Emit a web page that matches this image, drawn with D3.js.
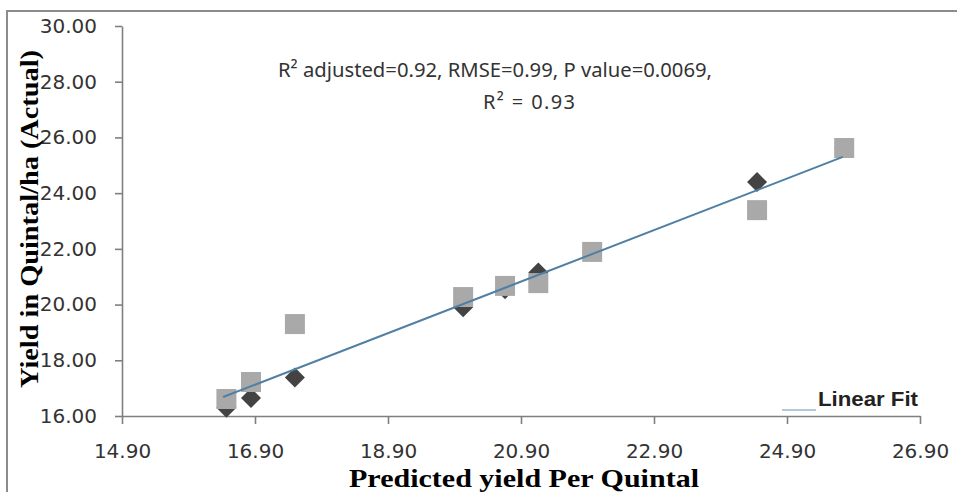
<!DOCTYPE html>
<html>
<head>
<meta charset="utf-8">
<script src="https://cdn.jsdelivr.net/npm/d3@7"></script>
<style>
  body { margin: 0; background: #fff; }
  svg { display: block; }
</style>
</head>
<body>
<div id="chart"></div>
<script>
// predicted yield (x) shared by both series
const predicted = [16.47, 16.84, 17.50, 20.03, 20.66, 21.16, 21.97, 24.45, 25.76];
const actualDiamond = [16.30, 16.65, 17.38, 19.90, 20.55, 21.15, 21.89, 24.40, 25.62];
const actualSquare = [16.61, 17.22, 19.30, 20.27, 20.67, 20.77, 21.89, 23.39, 25.62];
const fitX = [16.42, 25.74];
const fitY = [16.68, 25.30];
const xTicks = [14.9, 16.9, 18.9, 20.9, 22.9, 24.9, 26.9];
const yTicks = [16, 18, 20, 22, 24, 26, 28, 30];
const statLines = ["R\u00B2 adjusted=0.92, RMSE=0.99, P value=0.0069,", "R\u00B2 = 0.93"];

const width = 957, height = 492;
const margin = {left: 122, right: 37, top: 26, bottom: 76};

const svg = d3.select("#chart").append("svg")
  .attr("width", width)
  .attr("height", height);

// outer frame (cropped at right/bottom like the source)
svg.append("rect")
  .attr("x", 7).attr("y", 11)
  .attr("width", 980).attr("height", 500)
  .attr("fill", "none")
  .attr("stroke", "#8c8c8c")
  .attr("stroke-width", 2);

const x = d3.scaleLinear().domain([14.9, 26.9]).range([margin.left, width - margin.right]);
const y = d3.scaleLinear().domain([16, 30]).range([height - margin.bottom, margin.top]);

const xAxis = svg.append("g")
  .attr("transform", `translate(0,${height - margin.bottom})`)
  .call(d3.axisBottom(x).tickValues(xTicks).tickFormat(d3.format(".2f"))
    .tickSize(8).tickSizeOuter(0).tickPadding(20));

const yAxis = svg.append("g")
  .attr("transform", `translate(${margin.left},0)`)
  .call(d3.axisLeft(y).tickValues(yTicks).tickFormat(d3.format(".2f"))
    .tickSize(7).tickSizeOuter(0).tickPadding(18));

[xAxis, yAxis].forEach(function(g){
  g.selectAll(".domain, line").attr("stroke", "#7f7f7f").attr("stroke-width", 1.6);
  g.selectAll("text")
    .attr("fill", "#333")
    .style("font-family", "DejaVu Sans")
    .style("font-size", "20px");
});

// points: dark diamonds under grey squares
const pts = predicted.map((d, i) => ({x: d, yd: actualDiamond[i], ys: actualSquare[i]}));

svg.append("g").selectAll("path")
  .data(pts)
  .enter().append("path")
  .attr("d", d3.symbol(d3.symbolSquare, 200))
  .attr("transform", d => `translate(${x(d.x)},${y(d.yd)}) rotate(45)`)
  .attr("fill", "#434343");

svg.append("g").selectAll("path")
  .data(pts)
  .enter().append("path")
  .attr("d", d3.symbol(d3.symbolSquare, 400))
  .attr("transform", d => `translate(${x(d.x)},${y(d.ys)})`)
  .attr("fill", "#a9a9a9");

// linear fit
svg.append("path")
  .datum(fitX.map((d, i) => [d, fitY[i]]))
  .attr("d", d3.line().x(d => x(d[0])).y(d => y(d[1])))
  .attr("fill", "none")
  .attr("stroke", "#4f7fa3")
  .attr("stroke-width", 2);

// stats annotation
svg.append("text")
  .attr("x", 278).attr("y", 77)
  .style("font-family", "Noto Sans")
  .style("font-size", "20px")
  .attr("fill", "#333")
  .attr("textLength", 434)
  .attr("lengthAdjust", "spacingAndGlyphs")
  .text(statLines[0]);
svg.append("text")
  .attr("x", 483).attr("y", 109)
  .style("font-family", "Noto Sans")
  .style("font-size", "20px")
  .attr("fill", "#333")
  .attr("textLength", 92)
  .attr("lengthAdjust", "spacing")
  .text(statLines[1]);

// legend
svg.append("line")
  .attr("x1", 782).attr("x2", 816)
  .attr("y1", 410).attr("y2", 410)
  .attr("stroke", "#9db6c8").attr("stroke-width", 1.5);
svg.append("text")
  .attr("x", 818).attr("y", 406)
  .style("font-family", "Liberation Sans")
  .style("font-weight", "bold")
  .style("font-size", "20px")
  .attr("fill", "#222")
  .attr("textLength", 100)
  .attr("lengthAdjust", "spacingAndGlyphs")
  .text("Linear Fit");

// axis titles
svg.append("text")
  .attr("x", 524).attr("y", 487)
  .attr("text-anchor", "middle")
  .style("font-family", "Liberation Serif")
  .style("font-weight", "bold")
  .style("font-size", "25px")
  .attr("textLength", 350)
  .attr("lengthAdjust", "spacingAndGlyphs")
  .text("Predicted yield Per Quintal");

svg.append("text")
  .attr("transform", "translate(38,219) rotate(-90)")
  .attr("text-anchor", "middle")
  .style("font-family", "Liberation Serif")
  .style("font-weight", "bold")
  .style("font-size", "26px")
  .attr("textLength", 338)
  .attr("lengthAdjust", "spacingAndGlyphs")
  .text("Yield in Quintal/ha (Actual)");
</script>
</body>
</html>
